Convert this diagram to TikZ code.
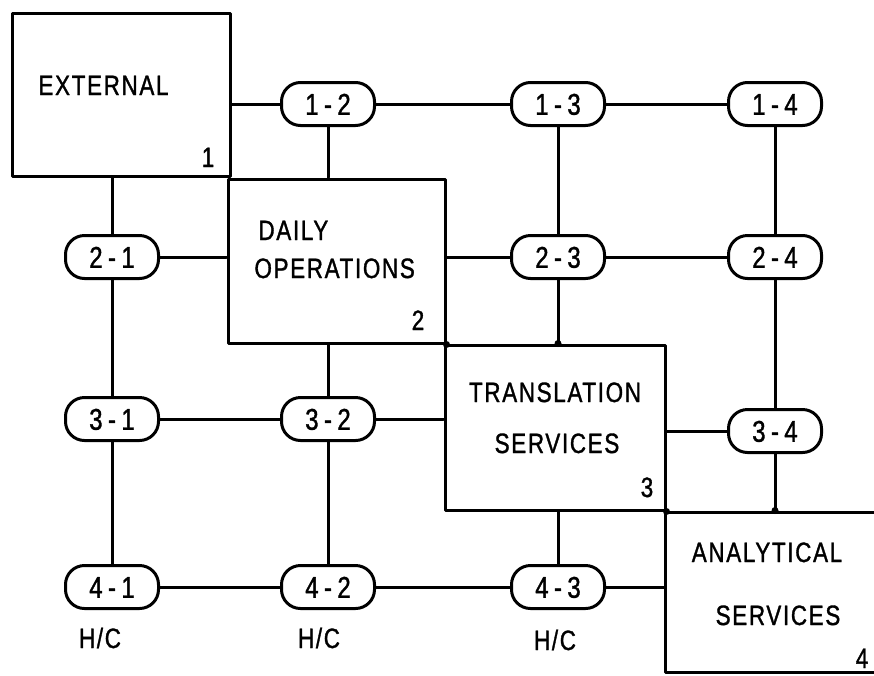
\documentclass[tikz,border=0pt]{standalone}
\usepackage{fontspec}
\newfontfamily\plotfont{Liberation Sans}[FakeStretch=0.8,LetterSpace=6,FakeBold=1.2]
\newfontfamily\pillfont{Liberation Sans}[FakeStretch=0.8,LetterSpace=18,FakeBold=1.2]
\begin{document}
\begin{tikzpicture}[x=1pt,y=-1pt,
  line width=3pt, line join=round, line cap=round,
  box/.style={draw, line width=3pt, inner sep=0pt},
  pill/.style={draw, rounded corners=19pt, minimum width=93pt, minimum height=43pt,
    inner sep=0pt, font=\pillfont\fontsize{30pt}{30pt}\selectfont,
    text height=21.5pt, text depth=0pt},
  lbl/.style={inner sep=0pt, font=\plotfont\fontsize{28pt}{28pt}\selectfont,
    text height=20pt, text depth=0pt},
  junction/.style={fill, circle, inner sep=0pt, minimum size=7pt}]
\useasboundingbox (0,0) rectangle (874,675);

% functional areas
\node[box, minimum width=218pt, minimum height=163pt] (b1) at (121,94.5) {};
\node[box, minimum width=217pt, minimum height=164pt] (b2) at (336.5,261) {};
\node[box, minimum width=220pt, minimum height=165pt] (b3) at (555,427.5) {};
\node[box, minimum width=250pt, minimum height=160pt] (b4) at (790,592) {};

% area titles and numbers
\node[lbl, anchor=west] (t1) at (37,85) {EXTERNAL};
\node[lbl] (n1) at (208,157) {1};
\node[lbl, anchor=west] (t2a) at (257,230) {DAILY};
\node[lbl, anchor=west] (t2b) at (253,268) {OPERATIONS};
\node[lbl] (n2) at (418,320) {2};
\node[lbl] (t3a) at (555,392) {TRANSLATION};
\node[lbl] (t3b) at (557,443) {SERVICES};
\node[lbl] (n3) at (647,487) {3};
\node[lbl] (t4a) at (767,552) {ANALYTICAL};
\node[lbl] (t4b) at (778,615) {SERVICES};
\node[lbl] (n4) at (862,658) {4};

% interface points
\node[pill] (p12) at (328,104) {1-2};
\node[pill] (p13) at (558,104) {1-3};
\node[pill] (p14) at (775,104) {1-4};
\node[pill] (p21) at (112,257) {2-1};
\node[pill] (p23) at (558,257) {2-3};
\node[pill] (p24) at (775,257) {2-4};
\node[pill] (p31) at (112,419) {3-1};
\node[pill] (p32) at (328,419) {3-2};
\node[pill] (p34) at (775,431) {3-4};
\node[pill] (p41) at (112,587) {4-1};
\node[pill] (p42) at (328,587) {4-2};
\node[pill] (p43) at (558,587) {4-3};

% H/C markers
\node[lbl] (hc1) at (100,638) {H/C};
\node[lbl] (hc2) at (319,638) {H/C};
\node[lbl] (hc3) at (555,640) {H/C};

% horizontal links
\draw (b1.east |- p12) -- (p12.west);
\draw (p12.east) -- (p13.west);
\draw (p13.east) -- (p14.west);
\draw (p21.east) -- (p21 -| b2.west);
\draw (b2.east |- p23) -- (p23.west);
\draw (p23.east) -- (p24.west);
\draw (p31.east) -- (p32.west);
\draw (p32.east) -- (p32 -| b3.west);
\draw (b3.east |- p34) -- (p34.west);
\draw (p41.east) -- (p42.west);
\draw (p42.east) -- (p43.west);
\draw (p43.east) -- (p43 -| b4.west);

% vertical links
\draw (b1.south -| p21) -- (p21.north);
\draw (p21.south) -- (p31.north);
\draw (p31.south) -- (p41.north);
\draw (p12.south) -- (p12 |- b2.north);
\draw (b2.south -| p32) -- (p32.north);
\draw (p32.south) -- (p42.north);
\draw (p13.south) -- (p23.north);
\draw (p23.south) -- (p23 |- b3.north);
\draw (b3.south -| p43) -- (p43.north);
\draw (p14.south) -- (p24.north);
\draw (p24.south) -- (p34.north);
\draw (p34.south) -- (p34 |- b4.north);

% junction points
\node[junction] (j1) at (b2.south east) {};
\node[junction] (j2) at (p23 |- b3.north) {};
\node[junction] (j3) at (b3.south east) {};
\node[junction] (j4) at (p34 |- b4.north) {};
\end{tikzpicture}
\end{document}
